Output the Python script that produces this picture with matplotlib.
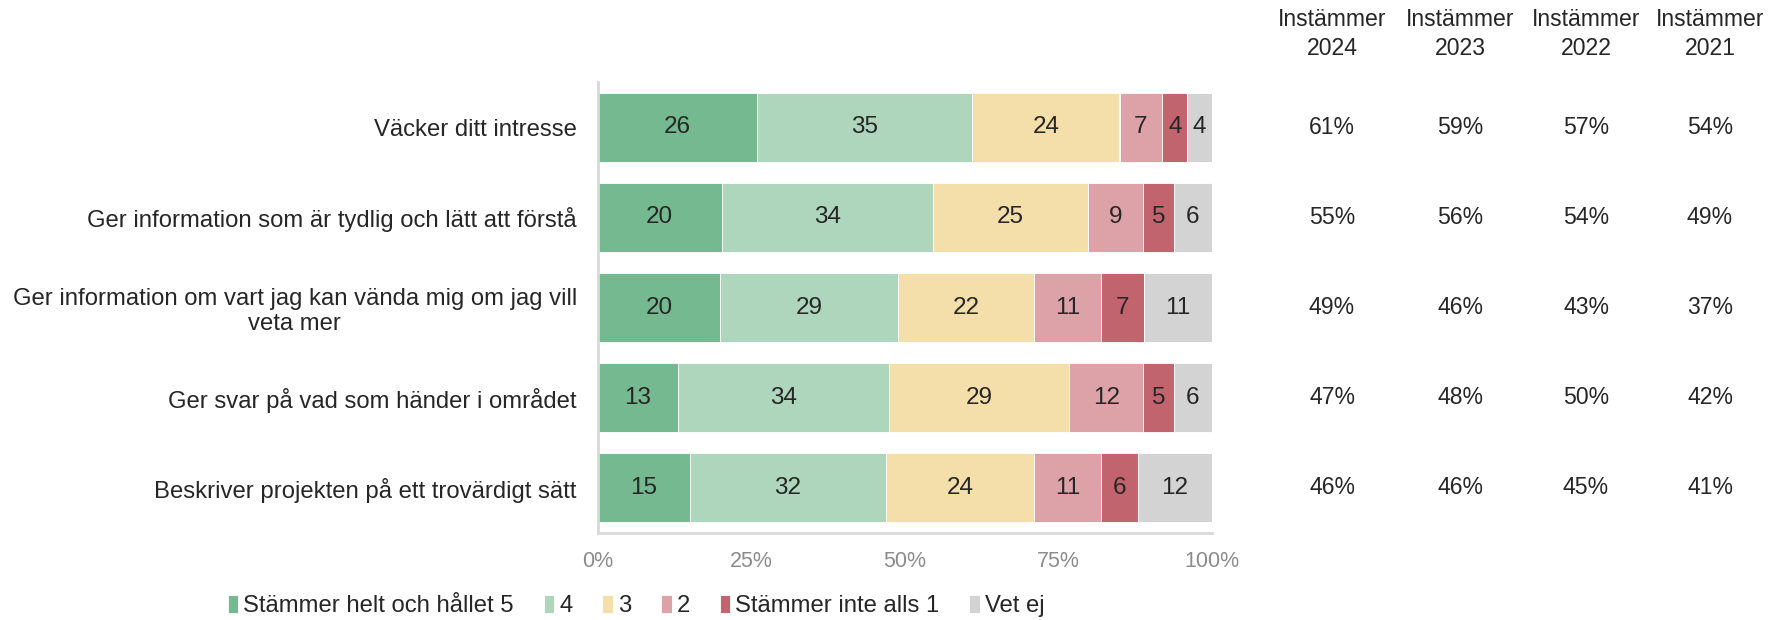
import matplotlib
matplotlib.use("Agg")
import matplotlib.pyplot as plt
import numpy as np

plt.rcParams['font.family'] = ['Liberation Sans', 'DejaVu Sans']

categories = [
    "Väcker ditt intresse",
    "Ger information som är tydlig och lätt att förstå",
    "Ger information om vart jag kan vända mig om jag vill\nveta mer",
    "Ger svar på vad som händer i området",
    "Beskriver projekten på ett trovärdigt sätt",
]
series_names = ["Stämmer helt och hållet 5", "4", "3", "2", "Stämmer inte alls 1", "Vet ej"]
s5 = [26, 20, 20, 13, 15]
s4 = [35, 34, 29, 34, 32]
s3 = [24, 25, 22, 29, 24]
s2 = [7, 9, 11, 12, 11]
s1 = [4, 5, 7, 5, 6]
vet_ej = [4, 6, 11, 6, 12]
colors = ["#75B991", "#AED6BC", "#F4DEAA", "#DCA2A8", "#C2646D", "#D3D3D3"]

year_headers = ["Instämmer\n2024", "Instämmer\n2023", "Instämmer\n2022", "Instämmer\n2021"]
agree_2024 = ["61%", "55%", "49%", "47%", "46%"]
agree_2023 = ["59%", "56%", "46%", "48%", "46%"]
agree_2022 = ["57%", "54%", "43%", "50%", "45%"]
agree_2021 = ["54%", "49%", "37%", "42%", "41%"]

W, H = 1787, 620
fig = plt.figure(figsize=(W / 100, H / 100), dpi=100)
ax = fig.add_axes([597.6 / W, 87 / H, 614 / W, 451 / H])

data = np.array([s5, s4, s3, s2, s1, vet_ej], dtype=float)
totals = data.sum(axis=0)
shares = data / totals
y = np.arange(len(categories))
left = np.zeros(len(categories))
txtcol = "#262626"
for i in range(len(series_names)):
    ax.barh(y, shares[i], left=left, height=0.766, color=colors[i],
            edgecolor="white", linewidth=0.6, label=series_names[i])
    for j in range(len(categories)):
        ax.text(left[j] + shares[i][j] / 2, y[j], f"{int(data[i][j])}",
                ha="center", va="center", fontsize=17.5, color=txtcol)
    left += shares[i]

ax.set_xlim(0, 1)
ax.set_ylim(4.5, -0.5)
ax.set_yticks(y)
ax.set_yticklabels(categories, fontsize=17.2, color=txtcol, multialignment="center",
                   linespacing=1.2)
ax.tick_params(axis="y", length=0, pad=15)
ax.set_xticks([0, 0.25, 0.5, 0.75, 1.0])
ax.set_xticklabels(["0%", "25%", "50%", "75%", "100%"], fontsize=15.5, color="#8C8C8C")
ax.tick_params(axis="x", length=0, pad=13)
for s in ["top", "right"]:
    ax.spines[s].set_visible(False)
for s in ["left", "bottom"]:
    ax.spines[s].set_color("#D9D9D9")
    ax.spines[s].set_linewidth(2)

# right-side columns
col_x = [1332, 1460, 1586, 1710]
cols = [agree_2024, agree_2023, agree_2022, agree_2021]
for cx, hdr, vals in zip(col_x, year_headers, cols):
    fig.text(cx / W, 1 - 34 / H, hdr, ha="center", va="center", fontsize=16.6,
             color=txtcol, linespacing=1.38)
    for j, v in enumerate(vals):
        ypix = 127.5 + j * 90.1
        fig.text(cx / W, 1 - ypix / H, v, ha="center", va="center", fontsize=16.6, color=txtcol)

handles, labels = ax.get_legend_handles_labels()
leg = fig.legend(handles, labels, loc="center", bbox_to_anchor=(636 / W, 1 - 606 / H),
                 ncol=6, frameon=False, fontsize=17.2, handlelength=0.45, handleheight=0.8,
                 handletextpad=0.2, columnspacing=1.25)
for t in leg.get_texts():
    t.set_color(txtcol)

fig.savefig("out.png", dpi=100)
